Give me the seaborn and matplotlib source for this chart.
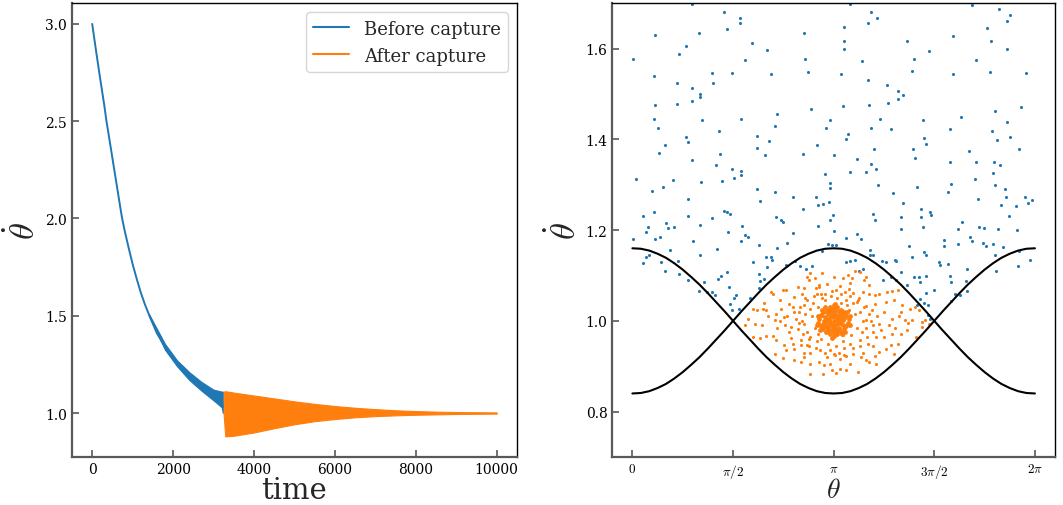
import matplotlib
matplotlib.use("Agg")
import matplotlib.pyplot as plt
import seaborn as sns
import numpy as np
from matplotlib.lines import Line2D

# ---------------- left panel: theta_dot vs time ----------------
t_before = [0, 100, 200, 300, 353, 400, 500, 600, 700, 740, 800, 900, 1000, 1100,
            1200, 1300, 1415, 1600, 1800, 2000, 2100, 2200, 2400, 2600, 2700, 2800,
            3000, 3200, 3230]
v_before = [3.00, 2.855, 2.715, 2.58, 2.50, 2.44, 2.31, 2.18, 2.05, 2.00, 1.94, 1.85,
            1.765, 1.69, 1.62, 1.56, 1.50, 1.41, 1.34, 1.28, 1.255, 1.23, 1.19, 1.155,
            1.14, 1.125, 1.095, 1.07, 1.03]

# band of the fast oscillation before capture
t_band = [1400, 1800, 2100, 2400, 2700, 3000, 3200, 3230]
band_hi = [1.51, 1.355, 1.27, 1.21, 1.16, 1.12, 1.11, 1.11]
band_lo = [1.50, 1.325, 1.24, 1.17, 1.115, 1.065, 1.03, 1.00]

# band of the oscillation after capture
t_after = [3250, 3290, 3500, 4000, 4500, 5000, 5500, 6000, 6500, 7000, 7500, 8000,
           8500, 9000, 9500, 10000]
after_hi = [1.11, 1.112, 1.105, 1.09, 1.075, 1.06, 1.047, 1.036, 1.027, 1.02, 1.014,
            1.01, 1.007, 1.005, 1.004, 1.003]
after_lo = [0.99, 0.88, 0.883, 0.90, 0.922, 0.942, 0.958, 0.969, 0.978, 0.984, 0.988,
            0.991, 0.993, 0.995, 0.996, 0.997]

# ---------------- right panel: phase portrait ----------------
theta_sep = [0.0, 0.131, 0.262, 0.393, 0.524, 0.654, 0.785, 0.916, 1.047, 1.178, 1.309,
             1.440, 1.571, 1.702, 1.833, 1.963, 2.094, 2.225, 2.356, 2.487, 2.618, 2.749,
             2.880, 3.011, 3.142, 3.272, 3.403, 3.534, 3.665, 3.796, 3.927, 4.058, 4.189,
             4.320, 4.451, 4.581, 4.712, 4.843, 4.974, 5.105, 5.236, 5.367, 5.498, 5.629,
             5.760, 5.890, 6.021, 6.152, 6.283]
sep_low_start = [0.840, 0.841, 0.845, 0.852, 0.861, 0.873, 0.887, 0.903, 0.920, 0.939,
                 0.959, 0.979, 1.000, 1.021, 1.041, 1.061, 1.080, 1.097, 1.113, 1.127,
                 1.139, 1.148, 1.155, 1.159, 1.160, 1.159, 1.155, 1.148, 1.139, 1.127,
                 1.113, 1.097, 1.080, 1.061, 1.041, 1.021, 1.000, 0.979, 0.959, 0.939,
                 0.920, 0.903, 0.887, 0.873, 0.861, 0.852, 0.845, 0.841, 0.840]
sep_high_start = [1.160, 1.159, 1.155, 1.148, 1.139, 1.127, 1.113, 1.097, 1.080, 1.061,
                  1.041, 1.021, 1.000, 0.979, 0.959, 0.939, 0.920, 0.903, 0.887, 0.873,
                  0.861, 0.852, 0.845, 0.841, 0.840, 0.841, 0.845, 0.852, 0.861, 0.873,
                  0.887, 0.903, 0.920, 0.939, 0.959, 0.979, 1.000, 1.021, 1.041, 1.061,
                  1.080, 1.097, 1.113, 1.127, 1.139, 1.148, 1.155, 1.159, 1.160]

blue_pts = [
    (0.01, 1.578), (0.06, 1.313), (0.01, 1.181), (0.17, 1.231), (0.24, 1.206), (0.22, 1.196),
    (0.30, 1.287), (0.33, 1.540), (0.35, 1.475), (0.34, 1.446), (0.40, 1.426), (0.42, 1.371),
    (0.36, 1.631), (0.33, 1.240), (0.35, 1.181), (0.43, 1.185), (0.47, 1.296), (0.51, 1.388),
    (0.52, 1.216), (0.55, 1.204), (0.64, 1.310), (0.65, 1.206), (0.58, 1.156), (0.69, 1.525),
    (0.70, 1.479), (0.72, 1.588), (0.84, 1.605), (0.84, 1.406), (0.87, 1.394), (0.93, 1.698),
    (0.93, 1.513), (0.93, 1.485), (0.93, 1.354), (0.87, 1.268), (0.87, 1.231), (0.94, 1.176),
    (1.04, 1.634), (1.05, 1.501), (1.05, 1.493), (1.08, 1.443), (1.07, 1.307), (1.06, 1.212),
    (1.05, 1.146), (1.25, 1.547), (1.26, 1.525), (1.24, 1.226), (1.30, 1.344), (1.32, 1.159),
    (1.36, 1.368), (1.35, 1.419), (1.43, 1.681), (1.40, 1.309), (1.43, 1.243), (1.47, 1.240),
    (1.53, 1.235), (1.50, 1.196), (1.48, 1.643), (1.55, 1.546), (1.55, 1.334), (1.59, 1.315),
    (1.70, 1.331), (1.69, 1.321), (1.68, 1.668), (1.68, 1.656), (1.70, 1.446), (1.71, 1.210),
    (1.69, 1.175), (1.75, 1.574), (1.75, 1.190), (1.81, 1.184), (1.87, 1.613), (1.94, 1.407),
    (1.94, 1.382), (1.94, 1.291), (1.99, 1.265), (1.97, 1.168), (2.10, 1.596), (2.16, 1.544),
    (2.07, 1.366), (2.13, 1.396), (2.22, 1.429), (2.25, 1.456), (2.23, 1.284), (2.24, 1.228),
    (2.25, 1.160), (2.17, 1.140), (2.18, 1.134), (2.10, 1.118), (2.32, 1.222), (2.35, 1.219),
    (2.42, 1.172), (2.50, 1.272), (2.51, 1.194), (2.68, 1.634), (2.70, 1.578), (2.74, 1.549),
    (2.79, 1.468), (2.67, 1.368), (2.67, 1.246), (2.86, 1.274), (2.88, 1.388), (2.90, 1.209),
    (2.89, 1.256), (2.97, 1.257), (3.02, 1.425), (3.00, 1.324), (3.08, 1.443), (3.08, 1.304),
    (3.09, 1.293), (3.07, 1.263), (3.09, 1.222), (3.14, 1.199), (3.14, 1.365), (3.13, 1.234),
    (3.11, 1.168), (3.30, 1.647), (3.30, 1.618), (3.30, 1.599), (3.25, 1.545), (3.28, 1.474),
    (3.34, 1.401), (3.37, 1.412), (3.39, 1.328), (3.39, 1.698), (3.34, 1.182), (3.51, 1.356),
    (3.50, 1.191), (3.57, 1.181), (3.59, 1.572), (3.67, 1.532), (3.68, 1.656), (3.72, 1.681),
    (3.82, 1.668), (3.69, 1.476), (3.65, 1.328), (3.73, 1.425), (3.77, 1.378), (3.72, 1.346),
    (3.81, 1.335), (3.84, 1.300), (3.76, 1.236), (3.78, 1.222), (3.71, 1.157), (3.76, 1.146),
    (3.86, 1.444), (3.90, 1.131), (3.98, 1.519), (3.99, 1.481), (4.04, 1.424), (4.07, 1.282),
    (4.15, 1.507), (4.15, 1.488), (4.22, 1.497), (4.12, 1.132), (4.10, 1.135), (4.19, 1.203),
    (4.20, 1.228), (4.22, 1.259), (4.28, 1.616), (4.31, 1.165), (4.36, 1.550), (4.39, 1.578),
    (4.38, 1.378), (4.41, 1.359), (4.45, 1.294), (4.50, 1.247), (4.54, 1.443), (4.55, 1.404),
    (4.54, 1.207), (4.51, 1.228), (4.59, 1.390), (4.64, 1.240), (4.66, 1.234), (4.63, 1.594),
    (4.55, 1.151), (4.58, 1.146), (4.37, 1.140), (4.48, 1.097), (4.40, 1.096), (4.59, 1.099),
    (4.49, 1.085), (4.59, 1.062), (4.55, 1.040), (4.62, 1.034), (4.71, 1.069), (4.79, 1.129),
    (4.80, 1.124), (4.86, 1.166), (4.93, 1.284), (4.95, 1.424), (4.95, 1.351), (4.97, 1.301),
    (5.01, 1.628), (5.01, 1.544), (5.09, 1.203), (5.13, 1.450), (5.14, 1.219), (5.26, 1.375),
    (5.27, 1.184), (5.30, 1.176), (5.35, 1.313), (5.36, 1.350), (5.36, 1.574), (5.40, 1.269),
    (5.41, 1.207), (5.30, 1.696), (5.54, 1.646), (5.58, 1.549), (5.59, 1.616), (5.61, 1.418),
    (5.63, 1.325), (5.65, 1.350), (5.66, 1.300), (5.66, 1.462), (5.69, 1.399), (5.71, 1.203),
    (5.73, 1.687), (5.74, 1.344), (5.75, 1.256), (5.81, 1.290), (5.84, 1.661), (5.84, 1.600),
    (5.83, 1.272), (5.84, 1.438), (5.89, 1.675), (5.89, 1.406), (5.88, 1.232), (5.98, 1.253),
    (6.00, 1.201), (6.04, 1.379), (6.07, 1.471), (6.13, 1.272), (6.14, 1.547), (6.18, 1.260),
    (6.23, 1.266), (6.21, 1.134), (6.03, 1.154), (6.02, 1.122), (5.79, 1.162), (5.67, 1.110),
    (5.66, 1.146), (5.52, 1.166), (5.48, 1.172), (5.63, 1.169), (5.49, 1.204), (5.22, 1.115),
    (5.20, 1.088), (5.11, 1.056), (5.04, 1.060), (4.96, 1.100), (4.97, 1.085), (5.22, 1.065),
    (4.98, 1.044), (5.08, 1.169), (4.92, 1.125), (4.87, 1.178), (0.16, 1.128), (0.22, 1.140),
    (0.26, 1.146), (0.44, 1.129), (0.51, 1.110), (0.71, 1.131), (0.72, 1.104), (0.87, 1.091),
    (1.04, 1.065), (1.11, 1.085), (1.16, 1.063), (1.25, 1.063), (1.29, 1.056), (1.34, 1.093),
    (1.39, 1.100), (1.47, 1.107), (1.51, 1.074), (1.53, 1.038), (1.59, 1.050), (1.55, 1.024),
    (1.61, 1.057), (1.67, 1.026), (1.83, 1.051), (1.89, 1.129), (1.98, 1.103), (1.99, 1.087),
    (1.97, 1.072), (2.09, 1.140), (2.06, 1.093), (2.40, 1.124), (2.54, 1.132), (2.62, 1.122),
    (2.71, 1.115), (2.80, 1.122), (2.96, 1.154), (3.06, 1.169), (3.18, 1.168), (3.33, 1.129),
    (3.40, 1.132), (3.47, 1.135), (3.53, 1.110), (3.60, 1.115), (3.71, 1.146), (3.91, 1.090),
    (3.96, 1.129), (4.04, 1.096), (4.12, 1.089), (4.19, 1.107), (4.28, 1.078), (4.62, 1.012),
    (4.64, 1.004), (4.45, 1.035), (4.49, 1.049),
]

orange_pts = [
    (2.78, 1.106), (2.73, 1.097), (2.76, 1.090), (2.96, 1.106), (3.14, 1.097), (3.29, 1.094),
    (3.37, 1.101), (3.47, 1.111), (3.55, 1.108), (3.62, 1.090), (3.64, 1.096), (3.39, 1.083),
    (3.24, 1.077), (3.04, 1.081), (2.91, 1.079), (2.86, 1.072), (2.68, 1.072), (2.64, 1.060),
    (2.88, 1.060), (3.01, 1.060), (3.18, 1.068), (3.32, 1.064), (3.45, 1.062), (3.60, 1.064),
    (3.70, 1.059), (3.78, 1.057), (3.85, 1.059), (3.98, 1.064), (4.06, 1.066), (4.14, 1.068),
    (2.17, 1.064), (2.19, 1.060), (2.35, 1.069), (2.40, 1.069), (2.53, 1.053), (2.30, 1.046),
    (2.32, 1.027), (2.45, 1.037), (2.53, 1.020), (2.68, 1.035), (2.73, 1.046), (2.78, 1.027),
    (3.34, 1.046), (3.50, 1.042), (3.65, 1.032), (3.78, 1.038), (3.96, 1.042), (4.08, 1.046),
    (4.21, 1.035), (4.34, 1.027), (4.41, 1.031), (4.47, 1.024), (1.89, 1.027), (1.94, 1.024),
    (2.04, 1.027), (2.09, 1.025), (2.24, 1.016), (1.81, 1.005), (1.91, 0.994), (2.02, 0.990),
    (2.22, 1.001), (2.37, 1.009), (2.48, 0.987), (2.58, 0.983), (2.68, 0.994), (3.65, 1.001),
    (3.75, 0.990), (3.85, 0.994), (4.06, 1.005), (4.16, 1.010), (4.26, 1.001), (4.37, 1.001),
    (4.52, 0.998), (4.57, 1.001), (4.63, 0.993), (1.76, 0.990), (1.89, 0.965), (1.99, 0.962),
    (2.09, 0.966), (2.19, 0.966), (2.24, 0.957), (2.37, 0.946), (2.48, 0.963), (2.63, 0.957),
    (2.73, 0.946), (2.78, 0.965), (3.55, 0.957), (3.68, 0.950), (3.80, 0.965), (3.93, 0.965),
    (4.06, 0.972), (4.19, 0.972), (4.29, 0.979), (4.42, 0.965), (4.52, 0.987), (2.22, 0.928),
    (2.35, 0.918), (2.53, 0.913), (2.68, 0.920), (2.78, 0.929), (2.93, 0.935), (3.04, 0.920),
    (3.14, 0.928), (3.24, 0.917), (3.34, 0.922), (3.45, 0.926), (3.57, 0.920), (3.65, 0.914),
    (3.78, 0.922), (3.85, 0.931), (3.96, 0.939), (4.08, 0.928), (2.53, 0.939), (2.63, 0.946),
    (2.99, 0.902), (3.09, 0.906), (3.24, 0.895), (2.78, 0.883), (2.98, 0.882), (3.11, 0.891),
    (3.18, 0.885), (3.34, 0.891), (3.52, 0.887), (3.80, 0.906), (3.70, 0.909), (2.78, 0.906),
    (2.63, 0.909), (2.40, 0.935), (4.03, 0.946), (4.14, 0.950),
    (2.80, 1.010), (2.85, 0.985), (2.90, 1.030), (2.95, 0.960), (3.00, 1.045), (3.05, 0.950),
    (3.20, 1.050), (3.28, 0.955), (3.35, 1.035), (3.42, 0.968), (3.48, 1.015), (3.50, 0.985),
    (3.45, 1.040), (2.82, 1.040), (2.88, 0.955), (3.40, 0.950), (3.55, 1.020), (3.58, 0.975),
    (2.70, 1.015), (2.72, 0.975), (3.10, 1.055), (3.18, 0.945), (2.95, 1.060), (3.30, 0.940),
    (3.60, 1.000), (2.65, 1.000), (3.65, 0.985), (2.60, 1.020), (3.70, 1.015), (2.75, 0.960),
    (3.52, 1.045), (2.92, 1.075), (3.38, 1.070), (3.08, 0.935), (3.22, 0.930),
    (2.55, 1.005), (2.60, 0.995), (2.62, 1.030), (2.66, 0.970), (2.70, 1.050), (2.75, 0.945),
    (2.84, 1.055), (2.86, 0.940), (2.96, 1.050), (3.00, 0.930), (3.12, 1.065), (3.16, 0.925),
    (3.26, 1.060), (3.30, 0.925), (3.40, 1.055), (3.44, 0.940), (3.54, 1.050), (3.56, 0.945),
    (3.62, 1.030), (3.66, 0.965), (3.72, 1.000), (3.74, 1.025), (3.76, 0.975), (2.50, 1.030),
    (2.45, 0.975), (2.42, 1.010), (2.38, 0.990), (3.82, 1.010), (3.88, 0.980), (3.92, 1.020),
    (4.00, 0.990), (2.30, 1.000), (2.26, 0.985), (4.10, 0.985), (4.20, 1.020), (2.12, 1.010),
    (2.05, 1.040), (4.30, 0.995), (2.85, 1.095), (3.43, 1.095), (2.58, 1.075), (3.70, 1.080),
    (2.50, 0.950), (3.75, 0.945), (2.92, 0.910), (3.40, 0.905), (2.68, 0.930), (3.60, 0.930),
    (3.05, 0.975), (3.25, 1.040), (2.96, 1.010), (3.32, 0.990), (2.90, 0.970), (3.38, 1.025),
    (3.00, 1.020), (3.28, 0.968),
]

# dense core around (pi, 1)
core_pts = [
    (3.14, 1.000), (3.19, 1.003), (3.09, 0.997), (3.24, 1.008), (3.04, 0.992), (3.29, 1.001),
    (2.99, 0.999), (3.17, 1.021), (3.11, 0.979), (3.13, 1.027), (3.15, 0.973), (3.23, 0.984),
    (3.05, 1.016), (3.28, 0.991), (3.00, 1.009), (3.34, 1.011), (2.94, 0.989), (3.26, 1.025),
    (3.02, 0.975), (3.08, 1.030), (3.20, 0.970), (3.36, 0.996), (2.92, 1.004), (3.31, 1.019),
    (2.97, 0.981), (3.14, 1.034), (3.14, 0.966), (3.25, 0.976), (3.03, 1.024), (3.38, 1.004),
    (2.90, 0.996), (3.31, 0.981), (2.98, 1.019), (3.18, 0.990), (3.10, 1.010), (3.22, 1.015),
    (3.06, 0.985), (3.12, 0.990), (3.16, 1.012), (3.21, 0.995), (3.07, 1.005), (3.27, 1.012),
    (3.01, 0.988), (3.33, 0.988), (2.95, 1.012), (3.19, 1.030), (3.09, 0.970), (3.04, 1.004),
    (3.24, 0.996), (3.12, 1.018), (3.16, 0.982), (3.30, 1.006), (2.98, 0.994), (3.20, 1.008),
    (3.08, 0.992), (3.35, 1.020), (2.93, 0.980), (3.27, 0.970), (3.01, 1.030), (3.11, 0.962),
    (3.17, 1.038), (3.39, 0.990), (2.89, 1.010), (3.13, 1.008), (3.15, 0.992), (3.26, 1.000),
    (3.02, 1.000), (3.18, 0.975), (3.10, 1.025), (3.23, 1.022), (3.05, 0.978), (3.32, 0.975),
    (2.96, 1.025), (3.40, 1.010), (2.88, 0.990), (3.13, 0.985), (3.15, 1.015), (3.06, 1.020),
    (3.22, 0.980),
]

# ---------------- style ----------------
sns.set_style("ticks")
plt.rcParams['font.family'] = ['DejaVu Serif']
plt.rcParams['mathtext.fontset'] = 'cm'

blue, orange = sns.color_palette("tab10")[:2]

fig = plt.figure(figsize=(10.63, 5.06), dpi=100)
ax1 = fig.add_axes([0.0677, 0.0949, 0.4186, 0.8966])
ax2 = fig.add_axes([0.576, 0.0949, 0.4165, 0.8966])

# left panel
sns.lineplot(x=t_before, y=v_before, ax=ax1, color=blue, lw=1.4, estimator=None, sort=False)
ax1.fill_between(t_band, band_lo, band_hi, color=blue, lw=0.8)
ax1.fill_between(t_after, after_lo, after_hi, color=orange, lw=0.8)

ax1.set_xlim(-500, 10500)
ax1.set_ylim(0.774, 3.106)
ax1.set_xticks([0, 2000, 4000, 6000, 8000, 10000])
ax1.set_yticks([1.0, 1.5, 2.0, 2.5, 3.0])
ax1.set_xlabel('time', fontsize=21, labelpad=0)
ax1.set_ylabel(r'$\dot{\theta}$', fontsize=25, labelpad=2)

handles = [Line2D([], [], color=blue, lw=1.5, label='Before capture'),
           Line2D([], [], color=orange, lw=1.5, label='After capture')]
ax1.legend(handles=handles, loc='upper right', fontsize=13, frameon=True,
           edgecolor='0.8', fancybox=True)

# right panel
bp = np.array(blue_pts)
op = np.array(orange_pts)
cp = np.array(core_pts)
sns.scatterplot(x=bp[:, 0], y=bp[:, 1], ax=ax2, color=blue, s=5, linewidth=0)
sns.scatterplot(x=op[:, 0], y=op[:, 1], ax=ax2, color=orange, s=5, linewidth=0)
sns.scatterplot(x=cp[:, 0], y=cp[:, 1], ax=ax2, color=orange, s=12, linewidth=0)
sns.lineplot(x=theta_sep, y=sep_low_start, ax=ax2, color='black', lw=1.5, estimator=None, sort=False)
sns.lineplot(x=theta_sep, y=sep_high_start, ax=ax2, color='black', lw=1.5, estimator=None, sort=False)

ax2.set_xlim(-0.314, 6.597)
ax2.set_ylim(0.7, 1.7)
ax2.set_xticks([0, np.pi / 2, np.pi, 3 * np.pi / 2, 2 * np.pi])
ax2.set_xticklabels(['$0$', r'$\pi/2$', r'$\pi$', r'$3\pi/2$', r'$2\pi$'])
ax2.set_yticks([0.8, 1.0, 1.2, 1.4, 1.6])
ax2.set_xlabel(r'$\theta$', fontsize=20, labelpad=-3)
ax2.set_ylabel(r'$\dot{\theta}$', fontsize=25, labelpad=2)

for ax in (ax1, ax2):
    for side in ('left', 'bottom'):
        ax.spines[side].set_color('0.35')
        ax.spines[side].set_linewidth(1.6)
    for side in ('top', 'right'):
        ax.spines[side].set_color('black')
        ax.spines[side].set_linewidth(1.0)
        ax.spines[side].set_visible(True)
    ax.tick_params(direction='in', length=5, width=1.2, color='0.35',
                   labelcolor='black', labelsize=10)
ax2.tick_params(axis='x', labelsize=9.5)

fig.savefig('out.png', dpi=100)
